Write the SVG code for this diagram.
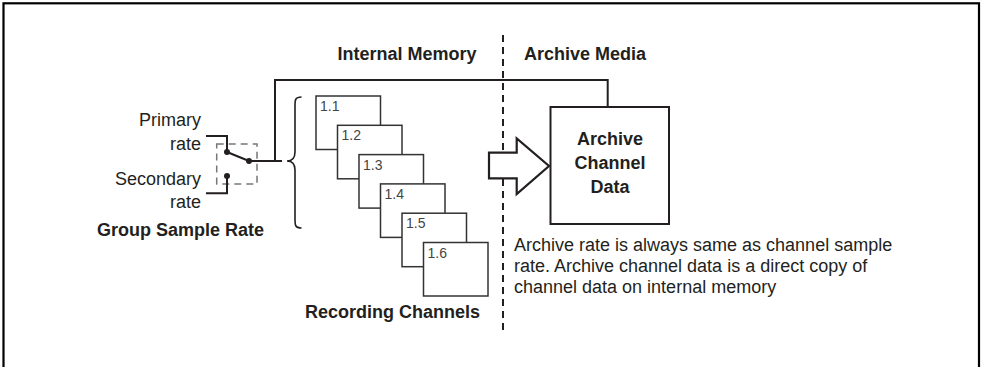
<svg xmlns="http://www.w3.org/2000/svg" width="983" height="367" viewBox="0 0 983 367">
<style>
text{font-family:"Liberation Sans",Arial,sans-serif;font-size:18px;fill:#231f20}
.b{font-weight:bold}
.num{font-size:14px;fill:#444}
.ch{fill:#fff;stroke:#333;stroke-width:1.5}
.ln{fill:none;stroke:#231f20;stroke-width:2}
.dash{fill:none;stroke:#231f20;stroke-width:2;stroke-dasharray:7 5}
.sw{fill:none;stroke:#777;stroke-width:1.5;stroke-dasharray:7 5}
</style>
<rect x="3.5" y="3.3" width="975.5" height="400" fill="#fff" stroke="#000" stroke-width="2.2"/>

<g id="headers">
<text class="b" x="407" y="60" text-anchor="middle">Internal Memory</text>
<text class="b" x="524" y="60">Archive Media</text>
</g>

<g id="divider">
<line class="dash" x1="503" y1="35" x2="503" y2="330"/>
</g>

<g id="switch">
<text x="201" y="126" text-anchor="end">Primary</text>
<text x="201" y="150" text-anchor="end">rate</text>
<text x="201" y="185" text-anchor="end">Secondary</text>
<text x="201" y="208" text-anchor="end">rate</text>
<text class="b" x="97" y="236">Group Sample Rate</text>
<rect class="sw" x="216.7" y="144" width="40.3" height="40"/>
<polyline class="ln" points="206,136 227,136 227,152"/>
<polyline class="ln" points="206,193.3 227,193.3 227,176"/>
<line class="ln" x1="227" y1="152" x2="249" y2="161"/>
<circle cx="227" cy="152" r="3" fill="#231f20"/>
<circle cx="227" cy="176" r="3" fill="#231f20"/>
<circle cx="249" cy="161" r="3" fill="#231f20"/>
</g>

<g id="channels">
<g id="ch1"><rect class="ch" x="316" y="96" width="64.5" height="53.5"/><text class="num" x="320" y="111">1.1</text></g>
<g id="ch2"><rect class="ch" x="337.5" y="125.3" width="64.5" height="53.5"/><text class="num" x="341.5" y="140.3">1.2</text></g>
<g id="ch3"><rect class="ch" x="359" y="154.6" width="64.5" height="53.5"/><text class="num" x="363" y="169.6">1.3</text></g>
<g id="ch4"><rect class="ch" x="380.5" y="183.9" width="64.5" height="53.5"/><text class="num" x="384.5" y="198.9">1.4</text></g>
<g id="ch5"><rect class="ch" x="402" y="213.2" width="64.5" height="53.5"/><text class="num" x="406" y="228.2">1.5</text></g>
<g id="ch6"><rect class="ch" x="423.5" y="242.5" width="64.5" height="53.5"/><text class="num" x="427.5" y="257.5">1.6</text></g>
<text class="b" x="480" y="318" text-anchor="end">Recording Channels</text>
</g>

<g id="archive">
<rect x="550.5" y="107" width="118.5" height="117" fill="#fff" stroke="#231f20" stroke-width="2"/>
<text class="b" x="610" y="145" text-anchor="middle">Archive</text>
<text class="b" x="610" y="169" text-anchor="middle">Channel</text>
<text class="b" x="610" y="193" text-anchor="middle">Data</text>
</g>

<g id="caption">
<text x="514" y="251">Archive rate is always same as channel sample</text>
<text x="514" y="272">rate. Archive channel data is a direct copy of</text>
<text x="514" y="293">channel data on internal memory</text>
</g>

<g id="connectors">
<polyline class="ln" points="275,161 275,80 607.7,80 607.7,107"/>
<line class="ln" x1="249" y1="161" x2="282" y2="161"/>
<path d="M301.5,97 C295,97 295,100 295,106 L295,152 C295,158 293,161 287,161 C293,161 295,164 295,170 L295,219 C295,225 295,228 301.5,228" fill="none" stroke="#231f20" stroke-width="1.6"/>
<polygon points="489,152.7 516.7,152.7 516.7,138.3 549,166 516.7,194 516.7,178.3 489,178.3" fill="#fff" stroke="#231f20" stroke-width="2.2"/>
</g>
</svg>
